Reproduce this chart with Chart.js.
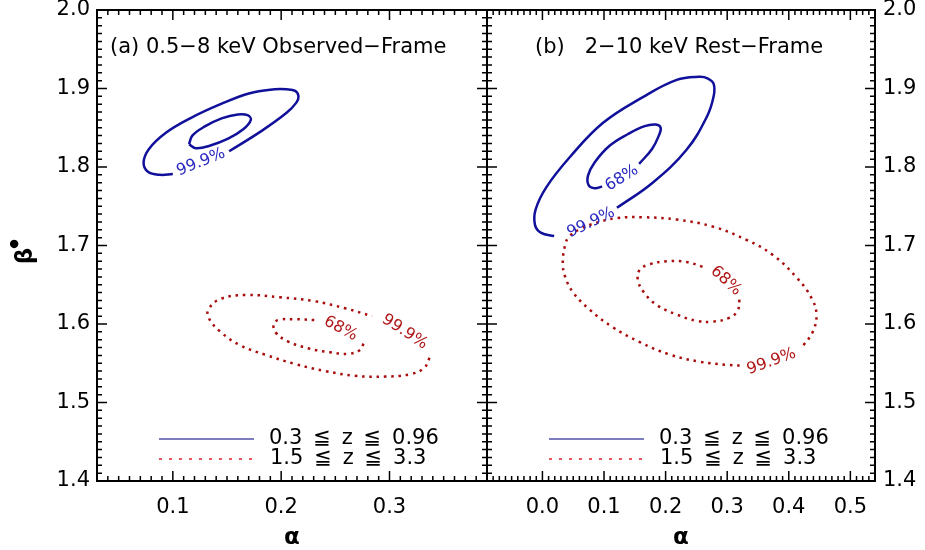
<!DOCTYPE html>
<html>
<head>
<meta charset="utf-8">
<script src="https://cdn.jsdelivr.net/npm/chart.js@4.4.1/dist/chart.umd.min.js"></script>
<style>
body{margin:0;background:#fff;width:925px;height:550px;overflow:hidden;position:relative}
canvas{position:absolute;top:0}
#chartA{left:0}
#chartB{left:480px}
</style>
</head>
<body>
<canvas id="chartA" width="488" height="550"></canvas>
<canvas id="chartB" width="445" height="550"></canvas>
<script>
// axes
var yTicks = [1.4, 1.5, 1.6, 1.7, 1.8, 1.9, 2.0];
var xTicksA = [0.1, 0.2, 0.3];
var xTicksB = [0.0, 0.1, 0.2, 0.3, 0.4, 0.5];
var xRangeA = [0.03, 0.39];
var xRangeB = [-0.09, 0.54];
var yRange = [1.4, 2.0];

var legendNames = ['0.3 \u2009\u2266\u2009 z \u2009\u2266\u2009 0.96', '1.5 \u2009\u2266\u2009 z \u2009\u2266\u2009 3.3'];
var titleA = '(a) 0.5\u22128 keV Observed\u2212Frame';
var titleB = '(b)   2\u221210 keV Rest\u2212Frame';

// panel (a) contours, [alpha, beta*]
var lowA99 = [[0.152,1.820],[0.182,1.846],[0.205,1.869],[0.214,1.882],[0.216,1.890],[0.213,1.897],[0.205,1.899],[0.194,1.899],[0.171,1.894],[0.144,1.880],[0.116,1.862],[0.093,1.843],[0.078,1.823],[0.073,1.806],[0.077,1.794],[0.088,1.790],[0.100,1.791]];
var lowA68 = [[0.115,1.829],[0.121,1.824],[0.134,1.827],[0.151,1.836],[0.165,1.848],[0.172,1.860],[0.169,1.866],[0.160,1.867],[0.145,1.862],[0.130,1.852],[0.118,1.840],[0.115,1.829]];
var highA99 = [[0.337,1.557],[0.332,1.544],[0.319,1.536],[0.296,1.533],[0.268,1.534],[0.241,1.540],[0.213,1.549],[0.185,1.561],[0.162,1.573],[0.144,1.590],[0.133,1.608],[0.133,1.619],[0.144,1.632],[0.167,1.637],[0.199,1.634],[0.231,1.629],[0.259,1.620],[0.284,1.610]];
var highA68 = [[0.276,1.575],[0.273,1.567],[0.262,1.562],[0.245,1.564],[0.225,1.569],[0.206,1.578],[0.195,1.589],[0.193,1.599],[0.197,1.605],[0.214,1.606],[0.231,1.605]];

// panel (b) contours
var lowB99 = [[0.121,1.748],[0.179,1.780],[0.234,1.822],[0.267,1.864],[0.278,1.890],[0.278,1.906],[0.268,1.913],[0.255,1.915],[0.218,1.911],[0.163,1.889],[0.098,1.856],[0.045,1.813],[0.007,1.775],[-0.011,1.746],[-0.012,1.726],[-0.002,1.716],[0.019,1.712]];
var lowB68 = [[0.157,1.804],[0.178,1.823],[0.189,1.840],[0.192,1.850],[0.184,1.854],[0.166,1.852],[0.139,1.842],[0.109,1.827],[0.085,1.806],[0.074,1.789],[0.075,1.777],[0.085,1.773],[0.097,1.775]];
var highB99 = [[0.424,1.573],[0.439,1.590],[0.445,1.612],[0.437,1.633],[0.413,1.659],[0.374,1.688],[0.332,1.707],[0.277,1.724],[0.218,1.733],[0.163,1.736],[0.121,1.735],[0.088,1.729],[0.061,1.721],[0.043,1.711],[0.037,1.701],[0.033,1.678],[0.037,1.660],[0.050,1.640],[0.077,1.618],[0.114,1.596],[0.158,1.577],[0.207,1.561],[0.255,1.552],[0.299,1.548],[0.324,1.547]];
var highB68 = [[0.320,1.631],[0.317,1.617],[0.304,1.608],[0.277,1.603],[0.251,1.604],[0.218,1.612],[0.186,1.624],[0.165,1.640],[0.155,1.656],[0.158,1.669],[0.174,1.676],[0.202,1.680],[0.234,1.679],[0.260,1.673]];

// contour level labels
var labelTextA = ['99.9%', '68%', '99.9%'];
var labelPosA = [[0.126,1.806],[0.255,1.594],[0.314,1.590]];
var labelTextB = ['99.9%', '68%', '68%', '99.9%'];
var labelPosB = [[0.079,1.729],[0.129,1.786],[0.298,1.655],[0.372,1.552]];

var BLUE = '#10109a', RED = '#a80c0c';
var FONT = '"DejaVu Sans", "Liberation Sans", sans-serif';

function line(pts, low) {
  return {
    data: pts.map(function(p){ return {x: p[0], y: p[1]}; }),
    showLine: true,
    borderColor: low ? BLUE : RED,
    borderWidth: 2.5,
    borderDash: low ? [] : [2.5, 4.8],
    tension: 0.4,
    pointRadius: 0,
    fill: false
  };
}

function decor(o) {
  return {
    id: 'decor',
    afterDatasetsDraw: function(chart) {
      var ctx = chart.ctx, a = chart.chartArea, xs = chart.scales.x, ys = chart.scales.y;
      var i, p, len;
      ctx.save();
      ctx.strokeStyle = '#000';
      ctx.lineWidth = 1.5;
      ctx.beginPath();
      for (i = Math.ceil(xs.min * 100 - 1e-6); i <= Math.floor(xs.max * 100 + 1e-6); i++) {
        p = xs.getPixelForValue(i / 100);
        len = (i % 10 === 0) ? 10 : 5;
        ctx.moveTo(p, a.bottom); ctx.lineTo(p, a.bottom - len);
        ctx.moveTo(p, a.top); ctx.lineTo(p, a.top + len);
      }
      for (i = Math.ceil(ys.min * 100 - 1e-6); i <= Math.floor(ys.max * 100 + 1e-6); i++) {
        p = ys.getPixelForValue(i / 100);
        len = (i % 10 === 0) ? 10 : 5;
        ctx.moveTo(a.left, p); ctx.lineTo(a.left + len, p);
        ctx.moveTo(a.right, p); ctx.lineTo(a.right - len, p);
      }
      ctx.stroke();
      ctx.lineWidth = 2;
      ctx.strokeRect(a.left, a.top, a.right - a.left, a.bottom - a.top);

      // tick labels
      ctx.fillStyle = '#000';
      ctx.font = '21px ' + FONT;
      ctx.textBaseline = 'middle';
      ctx.textAlign = 'center';
      o.xTicks.forEach(function(v){
        ctx.fillText(v.toFixed(1), xs.getPixelForValue(v), a.bottom + 27);
      });
      ctx.textAlign = o.ySide === 'left' ? 'right' : 'left';
      yTicks.forEach(function(v){
        var x = o.ySide === 'left' ? a.left - 7 : a.right + 8;
        ctx.fillText(v.toFixed(1), x, ys.getPixelForValue(v));
      });

      // alpha
      ctx.font = 'bold 23px ' + FONT;
      ctx.textAlign = 'center';
      ctx.fillText('\u03b1', (a.left + a.right) / 2, a.bottom + 57);

      // beta*
      if (o.ySide === 'left') {
        ctx.save();
        ctx.translate(26, 256);
        ctx.rotate(-Math.PI / 2);
        ctx.fillText('\u03b2', 0, 0);
        ctx.font = 'bold 11px ' + FONT;
        ctx.fillText('\u25cf', 12, -12);
        ctx.restore();
      }

      // title
      ctx.font = '21px ' + FONT;
      ctx.textAlign = 'left';
      ctx.fillText(o.title, a.left + o.titleDx, 48);

      // contour labels
      ctx.font = '16px ' + FONT;
      ctx.textAlign = 'center';
      o.labelText.forEach(function(t, k){
        ctx.save();
        ctx.translate(xs.getPixelForValue(o.labelPos[k][0]), ys.getPixelForValue(o.labelPos[k][1]));
        ctx.rotate(o.labelRot[k] * Math.PI / 180);
        ctx.fillStyle = o.labelLow[k] ? '#2a2ac0' : '#b01818';
        ctx.fillText(t, 0, 0);
        ctx.restore();
      });

      // legend
      var lx0 = a.left + 62, lx1 = a.left + 157;
      ctx.lineWidth = 1.5;
      ctx.strokeStyle = '#5050a8';
      ctx.beginPath(); ctx.moveTo(lx0, 439); ctx.lineTo(lx1, 439); ctx.stroke();
      ctx.strokeStyle = '#e0202a';
      ctx.setLineDash([3, 7]);
      ctx.beginPath(); ctx.moveTo(lx0, 459); ctx.lineTo(lx1, 459); ctx.stroke();
      ctx.setLineDash([]);
      ctx.fillStyle = '#000';
      ctx.font = '21px ' + FONT;
      ctx.textAlign = 'left';
      ctx.fillText(legendNames[0], a.left + 172, 439);
      ctx.fillText(legendNames[1], a.left + 173, 459);
      ctx.restore();
    }
  };
}

function makeChart(id, sets, xRange, pad, o) {
  return new Chart(document.getElementById(id).getContext('2d'), {
    type: 'scatter',
    data: { datasets: sets },
    options: {
      responsive: false,
      animation: false,
      layout: { padding: pad },
      plugins: { legend: { display: false }, tooltip: { enabled: false } },
      scales: {
        x: { type: 'linear', min: xRange[0], max: xRange[1], display: false },
        y: { type: 'linear', min: yRange[0], max: yRange[1], display: false }
      }
    },
    plugins: [decor(o)]
  });
}

makeChart('chartA',
  [line(lowA99, true), line(lowA68, true), line(highA99, false), line(highA68, false)],
  xRangeA, { left: 97, right: 1, top: 10, bottom: 69 },
  { xTicks: xTicksA, ySide: 'left', title: titleA, titleDx: 13,
    labelText: labelTextA, labelPos: labelPosA, labelRot: [-22, 28, 33], labelLow: [true, false, false] });

makeChart('chartB',
  [line(lowB99, true), line(lowB68, true), line(highB99, false), line(highB68, false)],
  xRangeB, { left: 7, right: 50, top: 10, bottom: 69 },
  { xTicks: xTicksB, ySide: 'right', title: titleB, titleDx: 48,
    labelText: labelTextB, labelPos: labelPosB, labelRot: [-26, -32, 42, -20], labelLow: [true, true, false, false] });
</script>
</body>
</html>
